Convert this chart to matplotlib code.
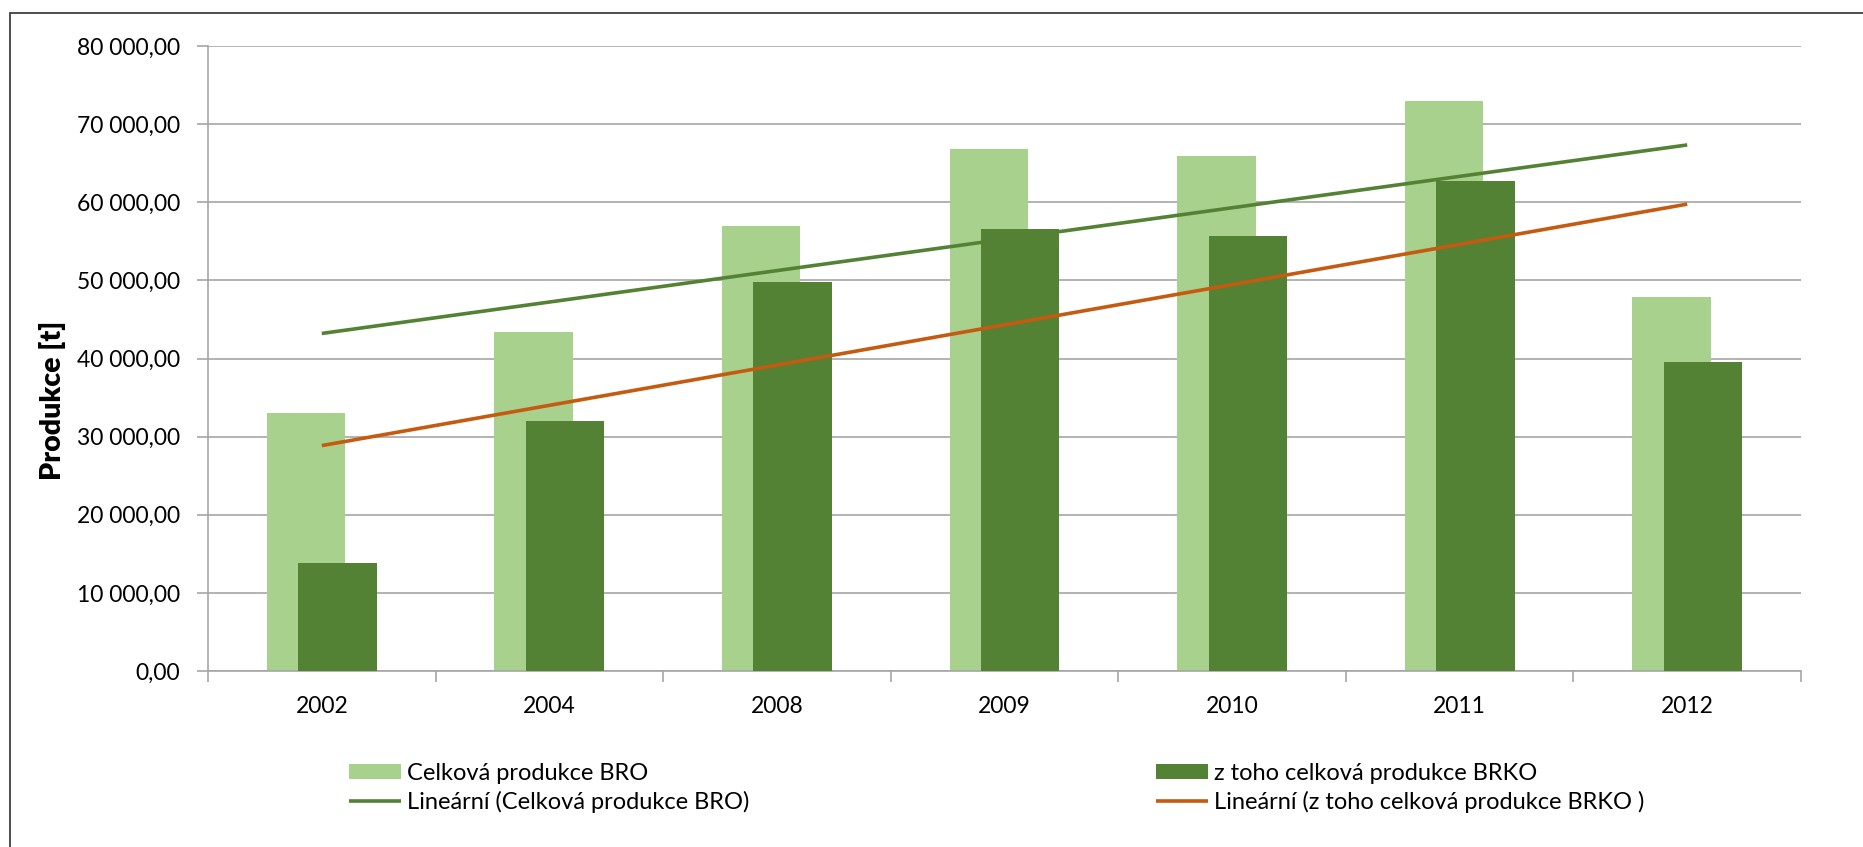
#!/usr/bin/python
# produkce BRO / BRKO - sloupcovy graf s linearnimi trendy

import matplotlib.pyplot as plt
import matplotlib.patches as mpatches
import numpy as np

years = ['2002', '2004', '2008', '2009', '2010', '2011', '2012']
bro = [33000, 43400, 57000, 66800, 65900, 72900, 47900]
brko = [13850, 32000, 49800, 56600, 55700, 62700, 39500]

label_bro = 'Celková produkce BRO'
label_brko = 'z toho celková produkce BRKO'
label_tr_bro = 'Lineární (Celková produkce BRO)'
label_tr_brko = 'Lineární (z toho celková produkce BRKO )'

light = '#A9D18E'
dark = '#548235'
orange = '#C55A11'


def fmt(v, pos=None):
	return '{:,.2f}'.format(v).replace(',', ' ').replace('.', ',')


def create_figure():
	plt.rcParams['font.family'] = ['Lato', 'DejaVu Sans']
	fig = plt.figure(figsize=(18.63, 8.47), dpi=100)

	# outer chart frame (runs off right and bottom edge like in the original)
	frame = mpatches.Rectangle((10 / 1863, 0 - 0.05), 1.2, 1 - 13 / 847 + 0.05,
							   transform=fig.transFigure, fill=False,
							   edgecolor='#404040', linewidth=1.3, clip_on=False)
	fig.patches.append(frame)

	ax = fig.add_axes([208 / 1863, 1 - 671 / 847, (1801 - 208) / 1863, (671 - 46) / 847])

	x = np.arange(len(years))
	w = 0.345
	off = 0.069
	b1 = ax.bar(x - off, bro, w, color=light, zorder=2)
	b2 = ax.bar(x + off, brko, w, color=dark, zorder=3)

	# linear trends (Excel style, fitted on category index)
	idx = x + 1
	p1 = np.polyfit(idx, bro, 1)
	p2 = np.polyfit(idx, brko, 1)
	l1, = ax.plot(x, np.polyval(p1, idx), color=dark, lw=2.6, zorder=4, solid_capstyle='butt')
	l2, = ax.plot(x, np.polyval(p2, idx), color=orange, lw=2.6, zorder=4, solid_capstyle='butt')

	ax.set_xlim(-0.5, len(years) - 0.5)
	ax.set_ylim(0, 80000)
	ax.set_yticks(np.arange(0, 80001, 10000))
	ax.yaxis.set_major_formatter(plt.FuncFormatter(fmt))
	ax.yaxis.grid(True, color='#A6A6A6', linewidth=1.2, zorder=0)
	ax.set_axisbelow(True)

	ax.set_xticks(x)
	ax.set_xticklabels(years)
	ax.set_xticks(np.arange(-0.5, len(years), 1.0), minor=True)
	ax.tick_params(axis='x', which='major', length=0, pad=18, labelsize=16.5)
	ax.tick_params(axis='x', which='minor', length=8, width=1.2, color='#A6A6A6', direction='out')
	ax.tick_params(axis='y', length=8, width=1.2, color='#A6A6A6', pad=12, labelsize=16.5)

	for s in ['top', 'right']:
		ax.spines[s].set_visible(False)
	ax.spines['left'].set_color('#A6A6A6')
	ax.spines['bottom'].set_color('#A6A6A6')
	ax.spines['left'].set_linewidth(1.2)
	ax.spines['bottom'].set_linewidth(1.2)

	fig.text(52 / 1863, 1 - 400 / 847, 'Produkce [t]', rotation=90, fontsize=20.5,
			 fontweight='heavy', ha='center', va='center')

	# legend, two columns placed separately
	kw = dict(loc='center left', frameon=False, fontsize=17, handlelength=2.2,
			  handleheight=0.65, handletextpad=0.25, labelspacing=0.3, borderpad=0)
	fig.legend([b1, l1], [label_bro, label_tr_bro],
			   bbox_to_anchor=(337 / 1863, 1 - 788 / 847), **kw)
	fig.legend([b2, l2], [label_brko, label_tr_brko],
			   bbox_to_anchor=(1144 / 1863, 1 - 788 / 847), **kw)

	return fig


if __name__ == "__main__":
	fig = create_figure()
	fig.savefig('out.png', dpi=100)
	plt.close(fig)
